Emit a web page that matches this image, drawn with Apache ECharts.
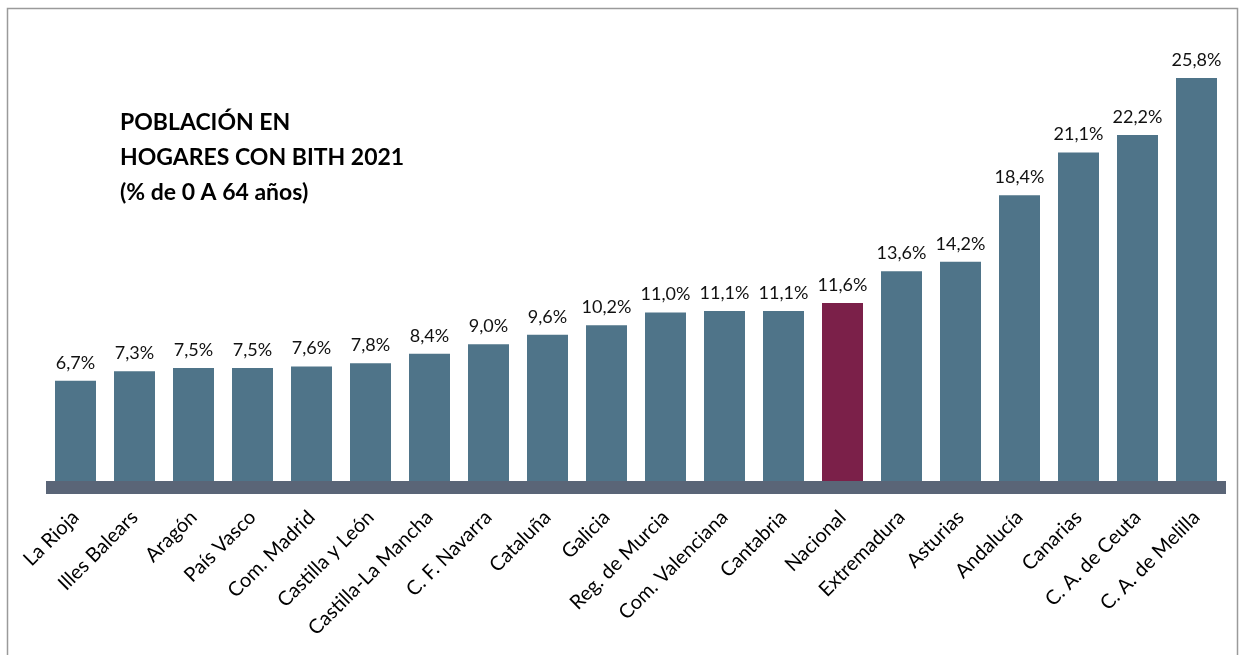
<!DOCTYPE html>
<html>
<head>
<meta charset="utf-8">
<script src="https://cdn.jsdelivr.net/npm/echarts@6/dist/echarts.min.js"></script>
<style>
  html, body { margin: 0; padding: 0; background: #fff; }
  #main { width: 1243px; height: 655px; }
</style>
</head>
<body>
<div id="main"></div>
<script>
// categorías y valores (% de 0 a 64 años)
let regiones = ['La Rioja', 'Illes Balears', 'Aragón', 'País Vasco', 'Com. Madrid', 'Castilla y León',
  'Castilla-La Mancha', 'C. F. Navarra', 'Cataluña', 'Galicia', 'Reg. de Murcia', 'Com. Valenciana',
  'Cantabria', 'Nacional', 'Extremadura', 'Asturias', 'Andalucía', 'Canarias', 'C. A. de Ceuta', 'C. A. de Melilla'];
let valores = [6.7, 7.3, 7.5, 7.5, 7.6, 7.8, 8.4, 9.0, 9.6, 10.2, 11.0, 11.1, 11.1, 11.6, 13.6, 14.2, 18.4, 21.1, 22.2, 25.8];
let destacado = 'Nacional';

window.addEventListener('load', function () {
  let chart = echarts.init(document.getElementById('main'));

  let datos = valores.map(function (v, i) {
    let d = { value: v };
    if (regiones[i] === destacado) d.itemStyle = { color: '#7B2049' };
    return d;
  });

  let option = {
    animation: false,
    textStyle: { fontFamily: 'Lato' },
    grid: { left: 46, right: 17, top: 43, bottom: 168, containLabel: false },
    graphic: [
      {
        type: 'rect',
        shape: { x: 7.5, y: 8.5, width: 1230, height: 700 },
        style: { fill: 'none', stroke: '#9a9a9a', lineWidth: 1.5 },
        z: -1
      },
      {
        type: 'text',
        left: 120,
        top: 105,
        style: {
          text: 'POBLACIÓN EN\nHOGARES CON BITH 2021\n(% de 0 A 64 años)',
          font: 'bold 23px Lato',
          lineHeight: 35,
          fill: '#000'
        }
      }
    ],
    xAxis: {
      type: 'category',
      data: regiones,
      axisLine: { lineStyle: { color: '#5A6577', width: 13, cap: 'butt' } },
      axisTick: { show: false },
      axisLabel: {
        interval: 0,
        rotate: 45,
        margin: 27,
        fontSize: 20,
        color: '#000'
      },
      z: 5
    },
    yAxis: {
      type: 'value',
      min: 0,
      max: 28,
      show: false,
      splitLine: { show: false }
    },
    series: [{
      type: 'bar',
      data: datos,
      barWidth: 41,
      itemStyle: { color: '#4F7489' },
      label: {
        show: true,
        position: 'top',
        distance: 9,
        fontSize: 18,
        color: '#111',
        formatter: function (p) { return p.value.toFixed(1).replace('.', ',') + '%'; }
      }
    }]
  };

  chart.setOption(option);
});
</script>
</body>
</html>
